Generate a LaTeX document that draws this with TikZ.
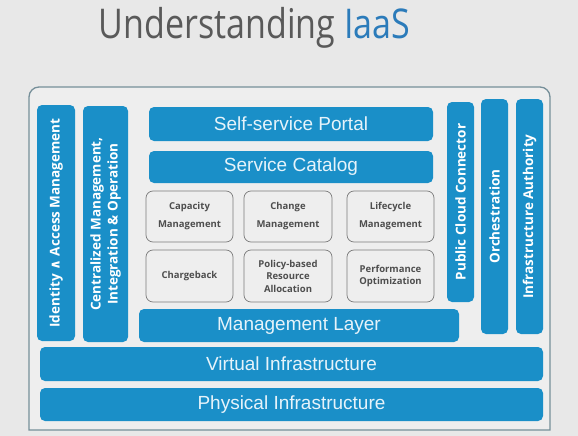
\documentclass[tikz,border=0pt]{standalone}
\usepackage{fontspec}
\setmainfont{Open Sans}
\newfontfamily\arialf{Liberation Sans}
\newfontfamily\dejab{DejaVu Sans}
\definecolor{pagebg}{HTML}{E8E8E8}
\definecolor{framebg}{HTML}{EEEEEE}
\definecolor{framecol}{HTML}{768F99}
\definecolor{barblue}{HTML}{1A8FC8}
\definecolor{titlegray}{HTML}{595959}
\definecolor{titleblue}{HTML}{2B7BBA}
\definecolor{lighttext}{HTML}{E6F3FA}
\definecolor{boxtext}{HTML}{4E4E4E}
\definecolor{boxline}{HTML}{7C7C7C}
\tikzset{
  bar/.style={fill=barblue, rounded corners=5pt, inner sep=0pt, draw=none},
  hbar/.style={bar, text=lighttext, font=\arialf\fontsize{19}{22}\selectfont},
  vlabel/.style={rotate=90, text=white, font=\bfseries\fontsize{13.5}{17}\selectfont, align=center, inner sep=0pt},
  smallbox/.style={draw=boxline, line width=0.7pt, fill=framebg, rounded corners=7pt, inner sep=0pt,
    text=boxtext, align=center, font=\bfseries\fontsize{9.5}{12.5}\selectfont},
}
\begin{document}
\begin{tikzpicture}[x=1pt,y=-1pt]
\useasboundingbox[fill=pagebg] (0,0) rectangle (578,436);
% title
\node[anchor=base, inner sep=0pt, font=\fontsize{41}{48}\selectfont] (title) at (254.5,38)
  {\scalebox{0.83}[1]{\textcolor{titlegray}{Understanding} \textcolor{titleblue}{IaaS}}};
% frame
\draw[framecol, line width=1.3pt, fill=framebg] (29,430) -- (29,400) [rounded corners=10pt] -- (29,87) -- (550,87) -- (550,400) [sharp corners] -- (550,430) -- cycle;
% left vertical bars
\node[bar, minimum width=38pt, minimum height=236pt] (idam) at (56,223) {};
\node[vlabel] at (idam.center) {Identity {\dejab\bfseries ∧} Access Management};
\node[bar, minimum width=45pt, minimum height=236pt] (cmio) at (105.5,224) {};
\node[vlabel] at (cmio.center) {Centralized Management,\\Integration \& Operation};
% right vertical bars
\node[bar, minimum width=27pt, minimum height=200pt] (pcc) at (460.5,202) {};
\node[vlabel] at (pcc.center) {Public Cloud Connector};
\node[bar, minimum width=27pt, minimum height=235pt] (orch) at (494.5,216.5) {};
\node[vlabel] at (orch.center) {Orchestration};
\node[bar, minimum width=27pt, minimum height=235pt] (infra) at (529.5,216.5) {};
\node[vlabel] at (infra.center) {Infrastructure Authority};
% horizontal bars
\node[hbar, minimum width=284pt, minimum height=34pt] (portal) at (291,124) {Self-service Portal};
\node[hbar, minimum width=284pt, minimum height=32pt] (catalog) at (291,167) {Service Catalog};
\node[hbar, minimum width=320pt, minimum height=33pt] (mgmt) at (299,325.5) {Management Layer};
\node[hbar, minimum width=503pt, minimum height=34pt] (virt) at (291.5,364) {Virtual Infrastructure};
\node[hbar, minimum width=503pt, minimum height=33pt] (phys) at (291.5,404.5) {Physical Infrastructure};
% small boxes
\node[smallbox, minimum width=87pt, minimum height=51pt, font=\bfseries\fontsize{9.5}{18}\selectfont] (cap) at (189.5,216.5) {Capacity\\Management};
\node[smallbox, minimum width=88pt, minimum height=51pt, font=\bfseries\fontsize{9.5}{18}\selectfont] (chg) at (288,216.5) {Change\\Management};
\node[smallbox, minimum width=87pt, minimum height=51pt, font=\bfseries\fontsize{9.5}{18}\selectfont] (life) at (390.5,216.5) {Lifecycle\\Management};
\node[smallbox, minimum width=87pt, minimum height=52pt] (charge) at (189.5,276) {Chargeback};
\node[smallbox, minimum width=88pt, minimum height=52pt] (policy) at (288,276) {Policy-based\\Resource\\Allocation};
\node[smallbox, minimum width=87pt, minimum height=52pt] (perf) at (390.5,276) {Performance\\Optimization};
\end{tikzpicture}
\end{document}
